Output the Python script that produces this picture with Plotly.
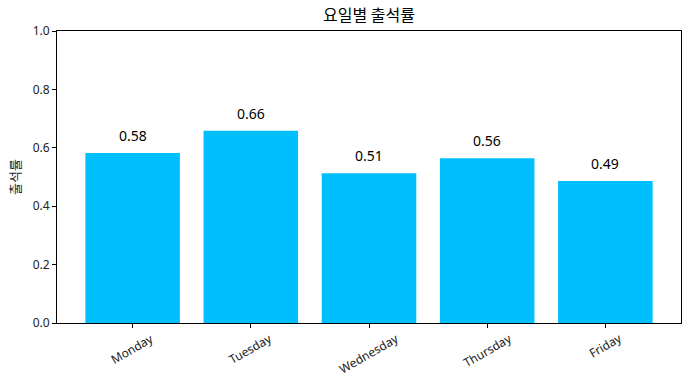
import plotly.graph_objects as go

days = ["Monday", "Tuesday", "Wednesday", "Thursday", "Friday"]
rates = [0.582, 0.658, 0.513, 0.564, 0.486]
y_ticks = [0.0, 0.2, 0.4, 0.6, 0.8, 1.0]
y_tick_labels = ["0.0", "0.2", "0.4", "0.6", "0.8", "1.0"]
title_text = "요일별 출석률"
y_title = "출석률"

latin = "Noto Sans, Open Sans, sans-serif"
kor = "Noto Sans CJK KR, sans-serif"

fig = go.Figure()
fig.add_trace(go.Bar(
    x=list(range(len(days))), y=rates, width=0.8,
    marker=dict(color="#00BFFF", line=dict(width=0)),
    hoverinfo="skip",
))

annotations = []
for i, v in enumerate(rates):
    annotations.append(dict(
        x=i, y=v + 0.02, xref="x", yref="y", text=f"{v:.2f}",
        showarrow=False, xanchor="center", yanchor="bottom",
        font=dict(family=latin, size=14, color="black"),
    ))
for i, d in enumerate(days):
    annotations.append(dict(
        x=i, y=0, xref="x", yref="paper", text=d, textangle=-30,
        showarrow=False, xanchor="center", yanchor="top", yshift=-4,
        font=dict(family=latin, size=12, color="#222"),
    ))
annotations.append(dict(
    x=0.5, y=1, xref="paper", yref="paper", text=title_text,
    showarrow=False, xanchor="center", yanchor="bottom", yshift=3,
    font=dict(family=kor, size=16, color="black"),
))

fig.update_layout(
    width=690, height=390,
    margin=dict(l=57, r=9, t=31, b=67),
    plot_bgcolor="white", paper_bgcolor="white",
    showlegend=False,
    annotations=annotations,
    xaxis=dict(
        range=[-0.64, 4.64], tickmode="array", tickvals=list(range(len(days))),
        showticklabels=False, ticks="outside", ticklen=4, tickcolor="black",
        showline=True, linecolor="black", linewidth=1, mirror=True,
        showgrid=False, zeroline=False, fixedrange=True,
    ),
    yaxis=dict(
        range=[0, 1], tickmode="array", tickvals=y_ticks, ticktext=y_tick_labels,
        ticks="outside", ticklen=4, tickcolor="black",
        tickfont=dict(family=latin, size=12, color="#222"),
        showline=True, linecolor="black", linewidth=1, mirror=True,
        showgrid=False, zeroline=False, fixedrange=True,
        title=dict(text=y_title, font=dict(family=kor, size=13, color="#222"), standoff=9),
    ),
)

fig.write_html("out.html", config={"displayModeBar": False})
